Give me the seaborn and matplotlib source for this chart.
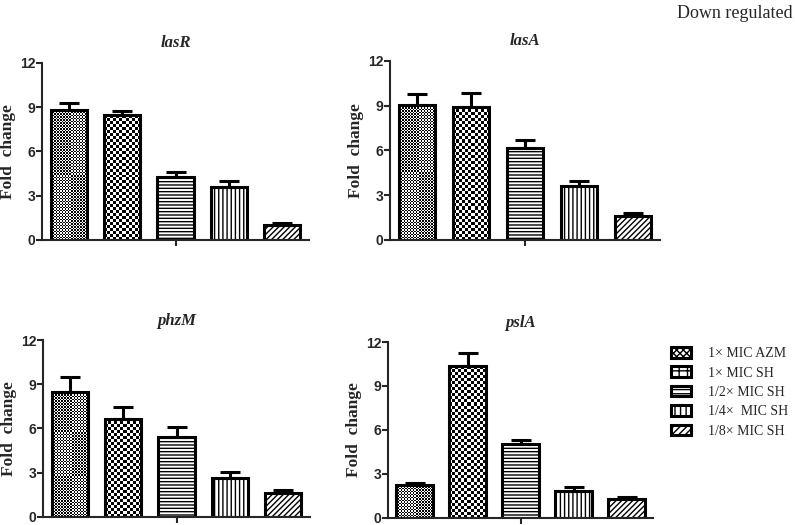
import matplotlib
matplotlib.use("Agg")
import matplotlib.pyplot as plt
import seaborn as sns
import numpy as np
import pandas as pd
from matplotlib.patches import Patch

# Behandlungen (Legende)
treatments = ["1\u00d7 MIC AZM", "1\u00d7 MIC SH", "1/2\u00d7 MIC SH",
              "1/4\u00d7  MIC SH", "1/8\u00d7 MIC SH"]
# Schraffur: Schachbrett (Zellgroesse in px) oder Hatch-Muster
hatches = [None, None, "-----", "||||", "//////"]
checker_px = [1.5, 3.0, None, None, None]
legend_hatches = ["xxxxx", "++", "----", "|||", "/////"]

genes = ["lasR", "lasA", "phzM", "pslA"]

# Mittelwerte und obere Fehler
lasR_mean = [8.77, 8.44, 4.24, 3.61, 1.02]
lasR_err = [0.52, 0.29, 0.34, 0.36, 0.13]
lasA_mean = [9.06, 8.92, 6.16, 3.64, 1.61]
lasA_err = [0.73, 0.89, 0.53, 0.31, 0.20]
phzM_mean = [8.49, 6.66, 5.39, 2.65, 1.58]
phzM_err = [1.00, 0.77, 0.70, 0.36, 0.23]
pslA_mean = [2.21, 10.34, 5.00, 1.85, 1.28]
pslA_err = [0.16, 0.91, 0.29, 0.25, 0.13]

means = [lasR_mean, lasA_mean, phzM_mean, pslA_mean]
errs = [lasR_err, lasA_err, phzM_err, pslA_err]

yticks = [0, 3, 6, 9, 12]

sns.set_style("ticks")
plt.rcParams["hatch.linewidth"] = 1.0
plt.rcParams["font.family"] = ["Liberation Sans", "DejaVu Sans"]

fig = plt.figure(figsize=(7.95, 5.25), dpi=100)

W, H = 795, 525
# Achsenpositionen in Pixeln: links, rechts, oben, unten
boxes = [(42, 309, 62.7, 240), (390, 660, 60.7, 240),
         (43, 310, 340, 516.7), (388, 653, 342, 517.7)]

for gene, m, e, (l, r, t, b) in zip(genes, means, errs, boxes):
    ax = fig.add_axes([l / W, 1 - b / H, (r - l) / W, (b - t) / H])
    df = pd.DataFrame({"Treatment": treatments, "Fold": m})
    sns.barplot(data=df, x="Treatment", y="Fold", hue="Treatment",
                palette=["white"] * 5, edgecolor="black", linewidth=2.2,
                width=0.68, legend=False, ax=ax)
    ax.set_xlim(-0.5, 4.5)
    ax.set_ylim(0, 12)
    px_x = (r - l) / 5.0      # Pixel pro Kategorie
    px_y = (b - t) / 12.0     # Pixel pro Einheit
    for patch, h, cpx in zip(list(ax.patches), hatches, checker_px):
        if h is not None:
            patch.set_hatch(h)
            continue
        x0, y0 = patch.get_x(), patch.get_y()
        bw, bh = patch.get_width(), patch.get_height()
        cols = max(1, int(round(bw * px_x / cpx)))
        rows = max(1, int(round(bh * px_y / cpx)))
        board = np.indices((rows, cols)).sum(axis=0) % 2
        im = ax.imshow(board, cmap="gray", vmin=0, vmax=1,
                       extent=(x0, x0 + bw, y0, y0 + bh), aspect="auto",
                       interpolation="nearest", zorder=patch.get_zorder() - 0.1)
        im.set_clip_path(patch)
        patch.set_facecolor("none")
    ax.set_xlim(-0.5, 4.5)
    ax.set_ylim(0, 12)
    ax.errorbar(x=range(5), y=m, yerr=[[0] * 5, e], fmt="none",
                ecolor="black", elinewidth=2.2, capsize=7, capthick=2.2,
                zorder=5)
    ax.set_yticks(yticks)
    ax.set_xticks([2])
    ax.set_xticklabels([""])
    ax.tick_params(axis="both", length=4, width=1.5, pad=1)
    for lab in ax.get_yticklabels():
        lab.set_fontweight("bold")
        lab.set_fontsize(10)
    ax.set_xlabel("")
    ax.set_ylabel("Fold  change", fontsize=12.5, fontweight="bold",
                  family="Liberation Serif")
    ax.yaxis.set_label_coords(-26.0 / (r - l), 0.5)
    ax.set_title(gene, fontsize=12, fontweight="bold", fontstyle="italic",
                 family="Liberation Serif", pad=11)
    sns.despine(ax=ax)
    ax.spines["left"].set_linewidth(1.5)
    ax.spines["bottom"].set_linewidth(1.5)

handles = [Patch(facecolor="white", edgecolor="black", hatch=h, linewidth=2.2)
           for h in legend_hatches]
fig.legend(handles, treatments, loc="upper left",
           bbox_to_anchor=(671 / W, 1 - 347 / H), frameon=False,
           prop={"family": "Liberation Serif", "size": 10},
           handlelength=1.45, handleheight=0.8, labelspacing=0.45,
           handletextpad=1.2, borderaxespad=0, borderpad=0)

fig.text(0.997, 1 - 13 / H, "Down regulated", ha="right", va="center",
         family="Liberation Serif", fontsize=13)

fig.savefig("out.png", dpi=100)
